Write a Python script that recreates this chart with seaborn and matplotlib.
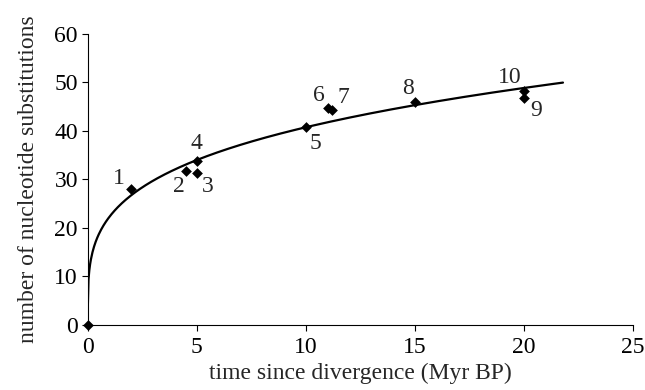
import numpy as np
import pandas as pd
import matplotlib
matplotlib.use("Agg")
import matplotlib.pyplot as plt
import seaborn as sns

# divergence times (Myr BP) and substitutions per pair
time_myr = [0, 2, 4.5, 5, 5, 10, 11, 11.2, 15, 20, 20]
substitutions = [0, 28, 31.8, 31.3, 33.7, 40.9, 44.7, 44.3, 46, 46.7, 48.3]
point_labels = ["", "1", "2", "3", "4", "5", "6", "7", "8", "9", "10"]
# where each number sits next to its point (pixels)
label_offsets = [(0, 0), (-12, 11), (-7, -16), (11, -13), (0, 18), (10, -17),
                 (-9, 13), (11, 13), (-7, 13), (12, -12), (-14, 13)]
trend_end = 21.8

sns.set_style("ticks")
plt.rcParams["font.family"] = ["Liberation Serif", "DejaVu Serif"]
plt.rcParams["xtick.direction"] = "out"
plt.rcParams["ytick.direction"] = "out"
FS = 17

df = pd.DataFrame({"t": time_myr, "n": substitutions, "lab": point_labels})

# power-law trendline fitted to the non-zero points
nz = df[df.t > 0]
b, log_a = np.polyfit(np.log(nz.t), np.log(nz.n), 1)
xs = np.linspace(0.0005, trend_end, 600)
trend = pd.DataFrame({"t": np.r_[0, xs], "n": np.r_[0, np.exp(log_a) * xs ** b]})

fig, ax = plt.subplots(figsize=(6.45, 3.9), dpi=100)
fig.subplots_adjust(left=0.136, right=0.981, top=0.913, bottom=0.167)

sns.lineplot(data=trend, x="t", y="n", ax=ax, color="black", linewidth=1.6,
             sort=False, estimator=None)
sns.scatterplot(data=df, x="t", y="n", ax=ax, marker="D", color="black",
                s=30, edgecolor="black", linewidth=0, zorder=3, clip_on=False)

for (t, n, lab), (dx, dy) in zip(zip(time_myr, substitutions, point_labels), label_offsets):
    if lab:
        ax.annotate(lab, (t, n), xytext=(dx * 0.72, dy * 0.72), textcoords="offset points",
                    ha="center", va="center", fontsize=FS)

ax.set_xlim(0, 25)
ax.set_ylim(0, 60)
ax.set_xticks(range(0, 26, 5))
ax.set_yticks(range(0, 61, 10))
ax.tick_params(labelsize=FS, length=4, width=0.8, color="black", labelcolor="black")
ax.tick_params(axis="x", pad=5)
ax.tick_params(axis="y", pad=3)
for s in ["left", "bottom"]:
    ax.spines[s].set_color("black")
    ax.spines[s].set_linewidth(0.8)
sns.despine(ax=ax)
ax.set_xlabel("time since divergence (Myr BP)", fontsize=FS, labelpad=3)
ax.set_ylabel("number of nucleotide substitutions", fontsize=FS, labelpad=11)

fig.savefig("out.png", dpi=100)
